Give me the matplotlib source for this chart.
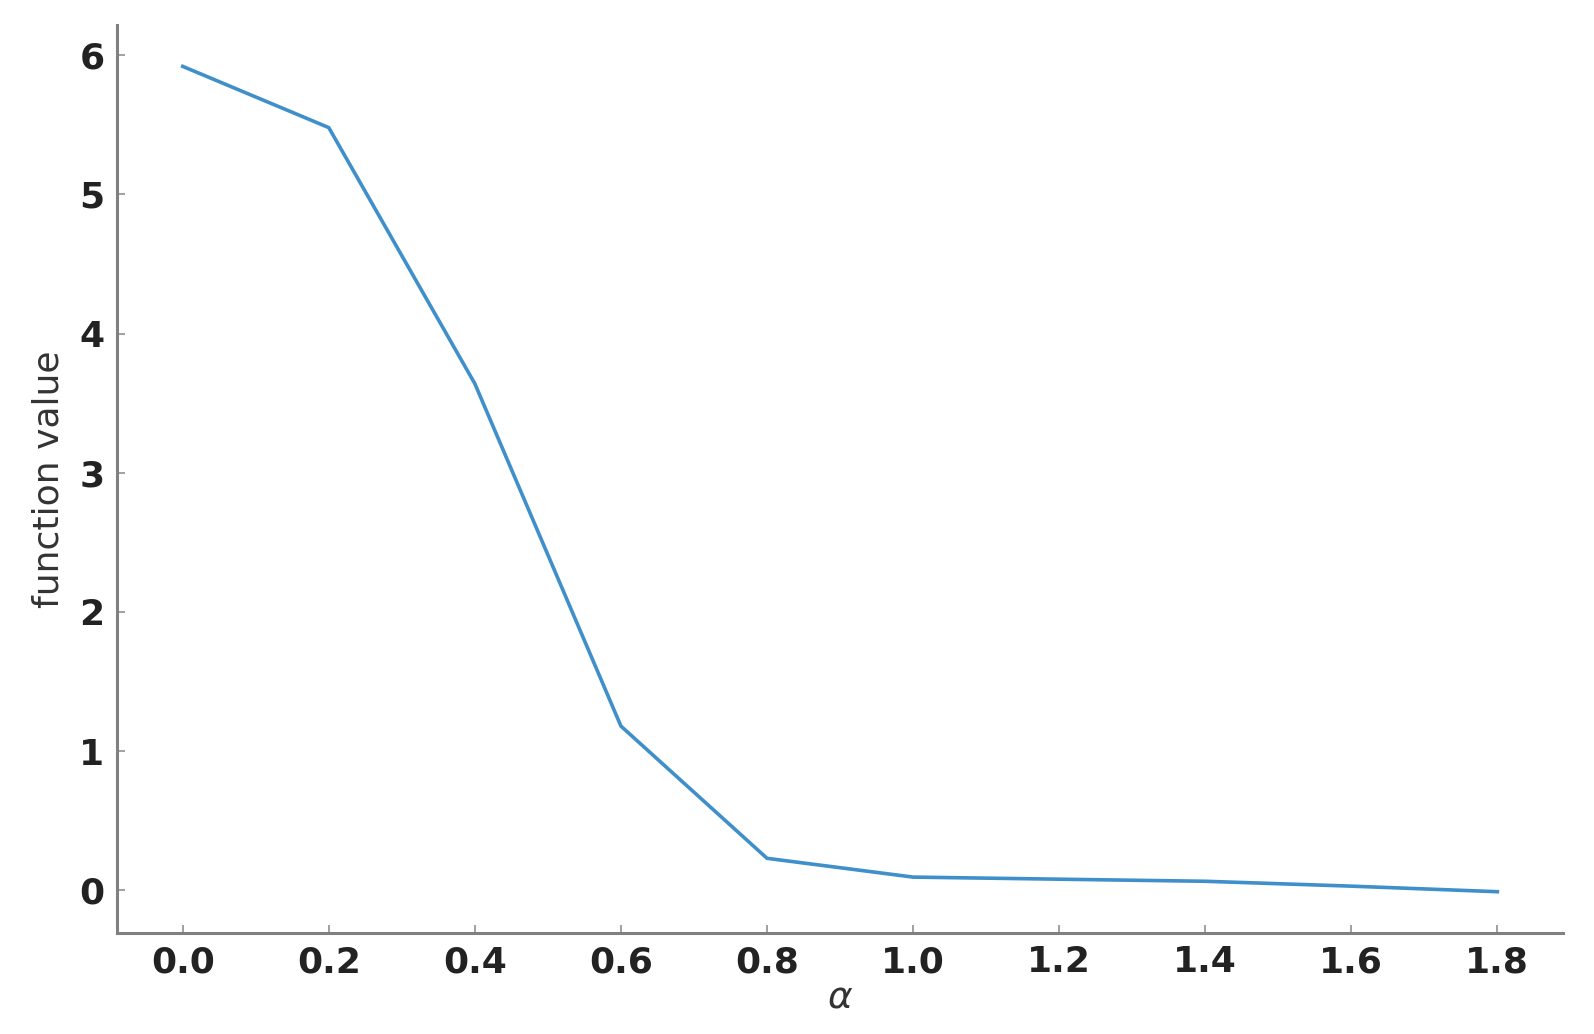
import matplotlib
matplotlib.use("Agg")
import matplotlib.pyplot as plt

# valeurs
alpha = [0.0, 0.2, 0.4, 0.6, 0.8, 1.0, 1.2, 1.4, 1.6, 1.8]
f_val = [5.92, 5.48, 3.64, 1.18, 0.23, 0.095, 0.08, 0.065, 0.03, -0.01]

fig = plt.figure(figsize=(15.94, 10.34), dpi=100)
ax = fig.add_axes([0.0734, 0.0977, 0.9072, 0.878])

ax.plot(alpha, f_val, color='#3f8fca', linewidth=2.6)

ax.set_xticks(alpha)
ax.set_xticklabels([f"{a:.1f}" for a in alpha])
ax.set_yticks([0, 1, 2, 3, 4, 5, 6])

for side in ['top', 'right']:
    ax.spines[side].set_visible(False)
for side in ['left', 'bottom']:
    ax.spines[side].set_color('#808080')
    ax.spines[side].set_linewidth(2.2)

ax.tick_params(direction='in', length=6, width=1.2, color='#909090',
               labelsize=26, labelcolor='#222222', pad=9)
for lbl in ax.get_xticklabels() + ax.get_yticklabels():
    lbl.set_fontweight('bold')

ax.set_xlabel(r'$\alpha$', fontsize=27, labelpad=0, color='#333333')
ax.set_ylabel('function value', fontsize=26, labelpad=10, color='#333333')

fig.savefig('out.png', dpi=100)
